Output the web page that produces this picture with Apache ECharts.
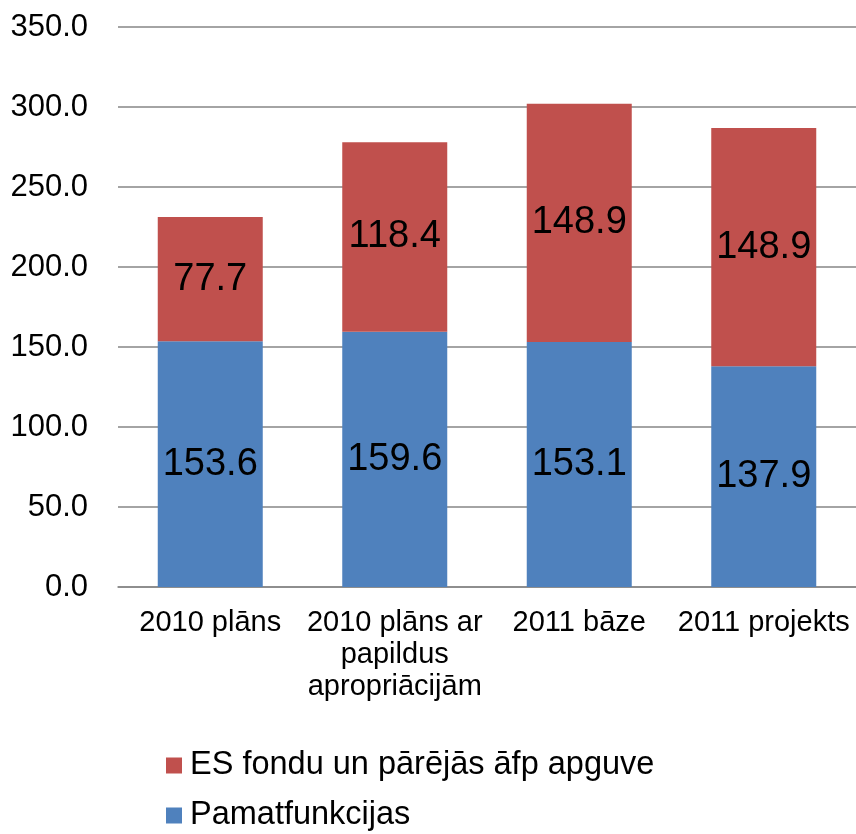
<!DOCTYPE html>
<html>
<head>
<meta charset="utf-8">
<script src="https://cdn.jsdelivr.net/npm/echarts@6/dist/echarts.min.js"></script>
<style>html,body{margin:0;padding:0;background:#fff}#c{width:856px;height:834px}</style>
</head>
<body>
<div id="c"></div>
<script>
var categories = ["2010 plāns", "2010 plāns ar papildus apropriācijām", "2011 bāze", "2011 projekts"];
var tickLabels = ["2010 plāns", "2010 plāns ar\npapildus\napropriācijām", "2011 bāze", "2011 projekts"];
var seriesNames = ["ES fondu un pārējās āfp apguve", "Pamatfunkcijas"];
var pamatfunkcijas = [153.6, 159.6, 153.1, 137.9];
var esFondi = [77.7, 118.4, 148.9, 148.9];

var chart = echarts.init(document.getElementById('c'), null, {renderer: 'canvas'});
var font = 'Liberation Sans, Arial, sans-serif';
function legendAt(name, top) {
  return {
    orient: 'horizontal', left: 166, top: top,
    itemWidth: 16, itemHeight: 16, icon: 'rect', padding: 0,
    data: [name],
    textStyle: {fontSize: 32.5, color: '#000', fontFamily: font, padding: [0, 0, 0, 3]}
  };
}
chart.setOption({
  animation: false,
  textStyle: {fontFamily: font},
  grid: {left: 118, right: 0, top: 27, bottom: 247, containLabel: false},
  legend: [legendAt(seriesNames[0], 749), legendAt(seriesNames[1], 799)],
  xAxis: {
    type: 'category', data: categories,
    axisTick: {show: false},
    axisLine: {lineStyle: {color: '#868686', width: 1.5}},
    axisLabel: {
      color: '#000', fontSize: 29, lineHeight: 32, margin: 20, interval: 0,
      formatter: function (v, i) { return tickLabels[i]; }
    }
  },
  yAxis: {
    type: 'value', min: 0, max: 350, interval: 50,
    axisLine: {show: false}, axisTick: {show: false},
    splitLine: {lineStyle: {color: '#868686', width: 1.5}},
    axisLabel: {color: '#000', fontSize: 31, margin: 30, formatter: function (v) { return v.toFixed(1); }}
  },
  series: [
    {
      name: seriesNames[1], type: 'bar', stack: 's', data: pamatfunkcijas, barWidth: 105,
      itemStyle: {color: '#4F81BD'},
      label: {show: true, position: 'inside', color: '#000', fontSize: 38, formatter: function (p) { return p.value.toFixed(1); }}
    },
    {
      name: seriesNames[0], type: 'bar', stack: 's', data: esFondi, barWidth: 105,
      itemStyle: {color: '#C0504D'},
      label: {show: true, position: 'inside', color: '#000', fontSize: 38, formatter: function (p) { return p.value.toFixed(1); }}
    }
  ]
});
</script>
</body>
</html>
